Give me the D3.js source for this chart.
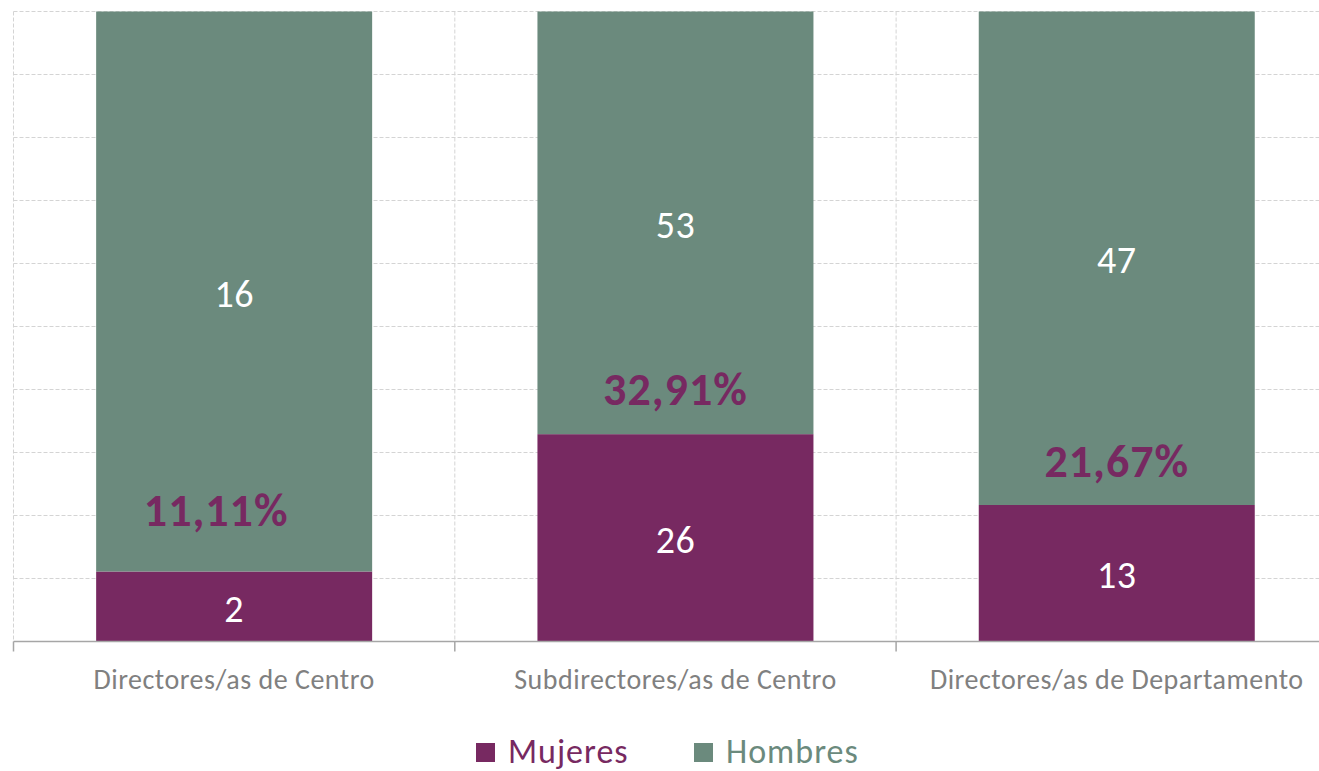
<!DOCTYPE html>
<html>
<head>
<meta charset="utf-8">
<script src="https://cdn.jsdelivr.net/npm/d3@7"></script>
<style>
  html, body { margin: 0; padding: 0; background: #fff; }
  svg { display: block; font-family: Carlito, Lato, "Open Sans", sans-serif; }
</style>
</head>
<body>
<svg id="chart" width="1319" height="771"></svg>
<script>
const categories = ["Directores/as de Centro", "Subdirectores/as de Centro", "Directores/as de Departamento"];
const mujeres = [2, 26, 13];
const hombres = [16, 53, 47];
const pctLabels = ["11,11%", "32,91%", "21,67%"];
const seriesNames = ["Mujeres", "Hombres"];
const yTicks = [0, 0.1, 0.2, 0.3, 0.4, 0.5, 0.6, 0.7, 0.8, 0.9, 1];

(function () {
const colors = { Mujeres: "#772961", Hombres: "#6b8a7d" };
const svg = d3.select("#chart");

const pL = 13.5, pR = 1337.4, pT = 11.5, pB = 641.5;
const pad = 1 - 276 / ((pR - pL) / 3);

const x = d3.scaleBand().domain(categories).range([pL, pR]).paddingInner(pad).paddingOuter(pad / 2);
const y = d3.scaleLinear().domain([0, 1]).range([pB, pT]);

const rows = categories.map((c, i) => ({ cat: c, Mujeres: mujeres[i], Hombres: hombres[i], total: mujeres[i] + hombres[i], pct: pctLabels[i] }));
const norm = rows.map(r => ({ cat: r.cat, Mujeres: r.Mujeres / r.total, Hombres: r.Hombres / r.total }));
const stack = d3.stack().keys(seriesNames)(norm);

// horizontal gridlines
svg.append("g").selectAll("line").data(yTicks.slice(1)).join("line")
  .attr("x1", pL).attr("x2", 1319)
  .attr("y1", d => y(d)).attr("y2", d => y(d))
  .attr("stroke", "#d4d4d4").attr("stroke-width", 1).attr("stroke-dasharray", "4,2");

// vertical gridlines at category boundaries
const step = x.step();
const bounds = categories.map((c, i) => pL + i * step);
svg.append("g").selectAll("line").data(bounds).join("line")
  .attr("x1", d => d).attr("x2", d => d)
  .attr("y1", pT).attr("y2", pB)
  .attr("stroke", "#d4d4d4").attr("stroke-width", 1).attr("stroke-dasharray", "4,2");

// bars
const layers = svg.append("g").selectAll("g").data(stack).join("g")
  .attr("fill", d => colors[d.key]);
layers.selectAll("rect").data(d => d).join("rect")
  .attr("x", d => x(d.data.cat))
  .attr("width", x.bandwidth())
  .attr("y", d => y(d[1]))
  .attr("height", d => y(d[0]) - y(d[1]));

// x axis
const axis = svg.append("g").attr("transform", `translate(0,${pB})`);
axis.append("line").attr("x1", pL).attr("x2", 1319).attr("y1", 0).attr("y2", 0)
  .attr("stroke", "#a6a6a6").attr("stroke-width", 1.5);
axis.selectAll("line.tick").data(bounds).join("line").attr("class", "tick")
  .attr("x1", d => d).attr("x2", d => d).attr("y1", 0).attr("y2", 10)
  .attr("stroke", "#a6a6a6").attr("stroke-width", 1.5);
axis.selectAll("text").data(categories).join("text")
  .attr("x", d => x(d) + x.bandwidth() / 2)
  .attr("y", 47)
  .attr("text-anchor", "middle")
  .attr("fill", "#808080")
  .attr("font-size", 28)
  .attr("letter-spacing", 0.5)
  .text(d => d);

// value labels
stack.forEach(layer => {
  svg.append("g").selectAll("text").data(layer).join("text")
    .attr("x", d => x(d.data.cat) + x.bandwidth() / 2)
    .attr("y", d => (y(d[0]) + y(d[1])) / 2)
    .attr("dy", "0.4em")
    .attr("text-anchor", "middle")
    .attr("fill", "#ffffff")
    .attr("font-size", 38)
    .attr("letter-spacing", 0.5)
    .text((d, i) => layer.key === "Mujeres" ? mujeres[i] : hombres[i]);
});

// percentage labels (manually placed above the Mujeres segment)
const pctDx = [-18, 0, 0];
const pctDy = [62, 46, 45];
svg.append("g").selectAll("text").data(rows).join("text")
  .attr("x", (d, i) => x(d.cat) + x.bandwidth() / 2 + pctDx[i])
  .attr("y", (d, i) => y(d.Mujeres / d.total) - pctDy[i])
  .attr("dy", "0.36em")
  .attr("text-anchor", "middle")
  .attr("fill", "#772961")
  .attr("font-weight", "bold")
  .attr("font-size", 46)
  .attr("letter-spacing", 1)
  .text(d => d.pct);

// legend
const legendItems = [{ name: "Mujeres", x: 476 }, { name: "Hombres", x: 694 }];
const lg = svg.append("g").selectAll("g").data(legendItems).join("g")
  .attr("transform", d => `translate(${d.x},743)`);
lg.append("rect").attr("width", 19).attr("height", 19).attr("fill", d => colors[d.name]);
lg.append("text").attr("x", 32).attr("y", 20)
  .attr("fill", d => colors[d.name])
  .attr("font-size", 34)
  .attr("letter-spacing", 1)
  .text(d => d.name);
})();
</script>
</body>
</html>
